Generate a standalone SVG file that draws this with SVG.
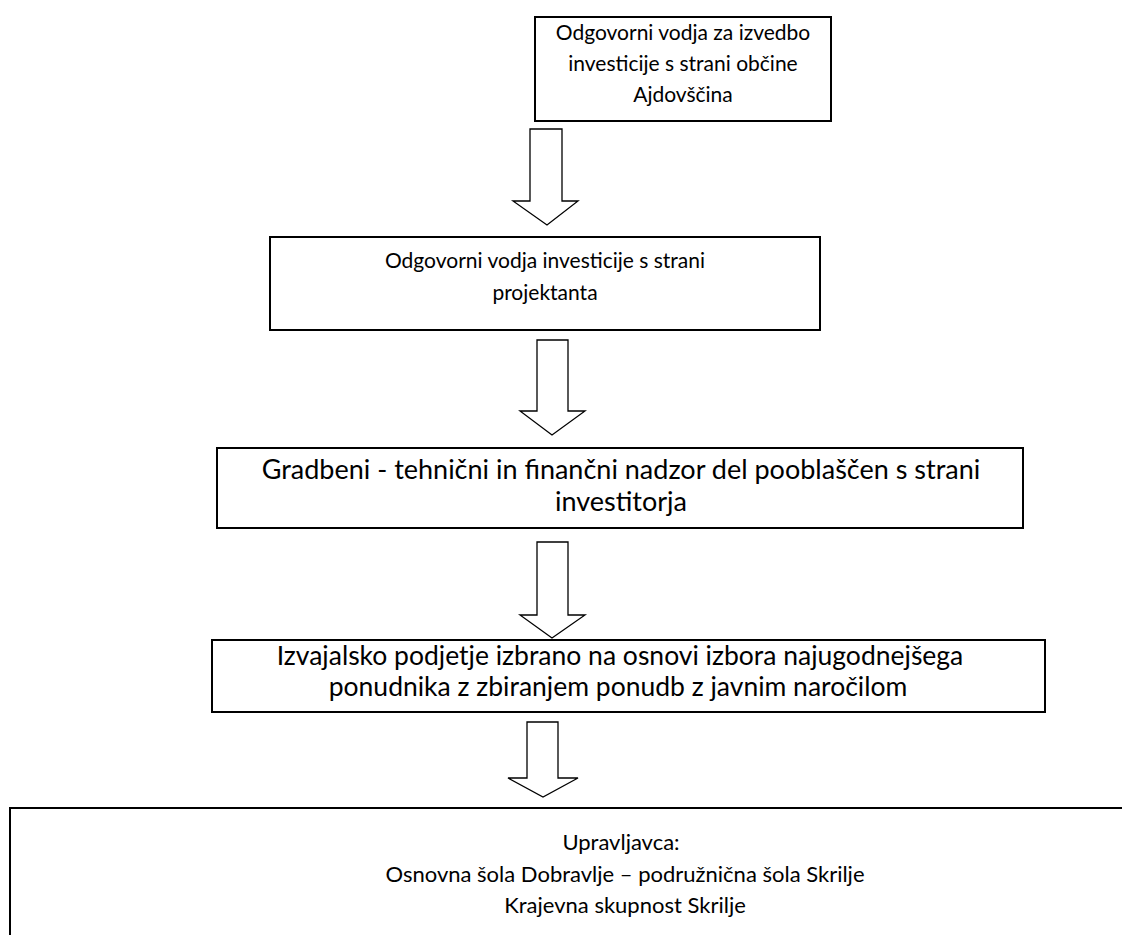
<svg xmlns="http://www.w3.org/2000/svg" width="1122" height="935" viewBox="0 0 1122 935">
<style>
.box{fill:#fff;stroke:#000;stroke-width:2}
.arr{fill:#fff;stroke:#000;stroke-width:1.3;stroke-linejoin:miter}
text{font-family:Lato,"Liberation Sans",sans-serif;font-size:21px;fill:#000;text-anchor:middle}
.b3{font-size:27px}
.b4{font-size:26.5px}
.mid{font-size:22px}
</style>
<rect width="1122" height="935" fill="#fff"/>
<g id="n1">
<rect class="box" x="535" y="17" width="296" height="104"/>
<text x="683" y="40">Odgovorni vodja za izvedbo</text>
<text x="683" y="71">investicije s strani občine</text>
<text x="683" y="102">Ajdovščina</text>
</g>
<g id="n2">
<rect class="box" x="270" y="237" width="550" height="93"/>
<text x="545" y="268">Odgovorni vodja investicije s strani</text>
<text x="545" y="300">projektanta</text>
</g>
<g id="n3">
<rect class="box" x="217" y="448" width="806" height="80"/>
<text class="b3" x="621" y="479">Gradbeni - tehnični in finančni nadzor del pooblaščen s strani</text>
<text class="b3" x="621" y="511">investitorja</text>
</g>
<g id="n4">
<rect class="box" x="212" y="640" width="833" height="72"/>
<text class="b4" x="620" y="665">Izvajalsko podjetje izbrano na osnovi izbora najugodnejšega</text>
<text class="b4" x="618" y="696">ponudnika z zbiranjem ponudb z javnim naročilom</text>
</g>
<g id="n5">
<path class="box" d="M1124,808 H10 V940"/>
<text class="mid" x="621" y="850">Upravljavca:</text>
<text class="mid" x="625" y="882">Osnovna šola Dobravlje – podružnična šola Skrilje</text>
<text class="mid" x="625" y="913">Krajevna skupnost Skrilje</text>
</g>
<g id="connectors">
<path class="arr" d="M530,129 H562 V201 H578 L547,225 L513,201 H530 Z"/>
<path class="arr" d="M537,340 H568 V411 H585 L552,435 L520,411 H537 Z"/>
<path class="arr" d="M537,542 H568 V615 H585 L552,638 L520,615 H537 Z"/>
<path class="arr" d="M527,722 H558 V778 H578 L543,797 L508,778 H527 Z"/>
</g>
</svg>
